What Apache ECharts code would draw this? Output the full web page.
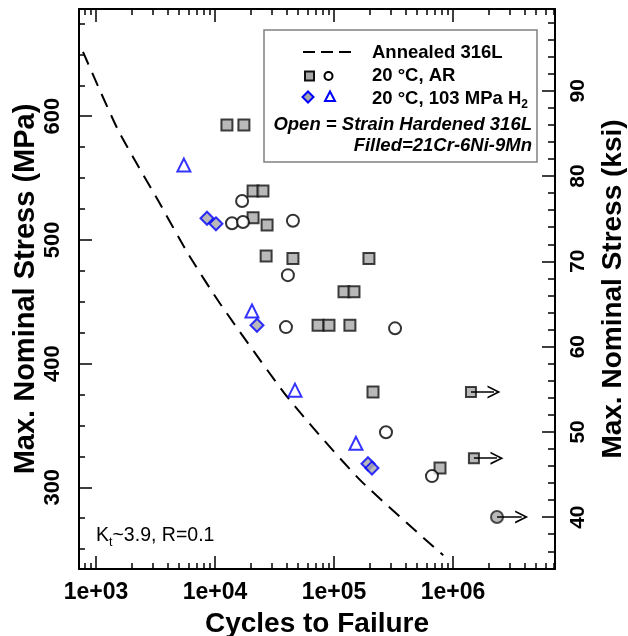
<!DOCTYPE html>
<html>
<head>
<meta charset="utf-8">
<script src="https://cdn.jsdelivr.net/npm/echarts@6/dist/echarts.min.js"></script>
<style>
html, body { margin: 0; padding: 0; background: #fff; }
#chart { width: 628px; height: 636px; }
</style>
</head>
<body>
<div id="chart"></div>
<script>
// values: cycles to failure, max nominal stress (MPa)
const annealedN = [778, 1530, 3320, 5930, 10940, 41300, 165200, 827900]
const annealedS = [652, 589, 532, 489, 449, 372, 306, 245]

// filled squares: 21Cr-6Ni-9Mn, 20 C, AR
const sqN = [12600, 17500, 20900, 25300, 20900, 27400, 26900, 45200, 196700, 121400, 147300, 73500, 90800, 136100, 212800, 778000]
const sqS = [593, 593, 539.5, 539.5, 518, 512, 487, 485, 485, 458, 458, 431, 431, 431, 377, 315.5]
// open circles: strain hardened 316L, 20 C, AR
const ciN = [16900, 13900, 17200, 45200, 41000, 39500, 326000, 273600, 666000]
const ciS = [531.5, 513.5, 514.5, 515.5, 471.5, 429.5, 428.5, 344.5, 309]
// filled diamonds: 21Cr-6Ni-9Mn, 103 MPa H2
const diN = [8570, 10190, 22540, 193000, 208600]
const diS = [517.5, 513, 431, 319, 315.5]
// open triangles: strain hardened 316L, 103 MPa H2
const trN = [5480, 20460, 47000, 153000]
const trS = [560.5, 442.5, 378.5, 335.5]

// run-outs (arrow to the right)
const runSqN = [1416000, 1500000]
const runSqS = [377, 323.5]
const runSqEnd = [2211000, 2343000]
const runCiN = [2344000]
const runCiS = [276]
const runCiEnd = [3778000]

// axes
const xMin = 720, xMax = 7200000
const yMin = 233.9, yMax = 686.7
const KSI = 6.895
const xMajor = [1e3, 1e4, 1e5, 1e6]
const mpaMajor = [300, 400, 500, 600]
const ksiMajor = [40, 50, 60, 70, 80, 90]

const xMinor = []
for (let p = 100; p <= 1e6; p *= 10) {
  for (let k = 2; k <= 9; k++) {
    const v = k * p
    if (v > xMin && v < xMax) xMinor.push(v)
  }
}
const mpaMinor = []
for (let v = 250; v < yMax; v += 25) if (v % 100) mpaMinor.push(v)
const ksiMinor = []
for (let v = 34; v < yMax / KSI; v += 2) if (v % 10) ksiMinor.push(v)

const FONT = 'Liberation Sans, Arial, Helvetica, sans-serif'
const GRAY = '#a8a8a8'
const BLUE = '#0000ff'

const pairs = (xs, ys) => xs.map((x, i) => [x, ys[i]])

const axisLine = { show: true, onZero: false, lineStyle: { color: '#000', width: 2 } }
const noLine = { show: false }

function xAxis(position, ticks, len, major) {
  return {
    type: 'log', logBase: 10, position, min: xMin, max: xMax,
    axisLine: major ? axisLine : noLine,
    axisTick: { inside: true, length: len, customValues: ticks, lineStyle: { color: '#000', width: 1.5 } },
    axisLabel: { show: false },
    splitLine: { show: false },
    minorTick: { show: false },
  }
}

function yAxis(position, lo, hi, ticks, len, major) {
  return {
    type: 'value', position, min: lo, max: hi,
    axisLine: major ? axisLine : noLine,
    axisTick: { inside: true, length: len, customValues: ticks, lineStyle: { color: '#000', width: 1.5 } },
    axisLabel: { show: false },
    splitLine: { show: false },
  }
}

const bottom = xAxis('bottom', xMajor, 13, true)
bottom.axisLabel = {
  show: true, customValues: xMajor, margin: 12,
  formatter: (v) => '1e+0' + Math.round(Math.log10(v)),
  color: '#000', fontFamily: FONT, fontWeight: 'bold', fontSize: 23,
}
bottom.name = 'Cycles to Failure'
bottom.nameLocation = 'middle'
bottom.nameGap = 41
bottom.nameMoveOverlap = false
bottom.nameTextStyle = { color: '#000', fontFamily: FONT, fontWeight: 'bold', fontSize: 28 }

const left = yAxis('left', yMin, yMax, mpaMajor, 13, true)
left.axisLabel = {
  show: true, customValues: mpaMajor, rotate: 90, margin: 15,
  color: '#000', fontFamily: FONT, fontWeight: 'bold', fontSize: 22,
}
left.name = 'Max. Nominal Stress (MPa)'
left.nameLocation = 'middle'
left.nameGap = 39
left.nameMoveOverlap = false
left.nameTextStyle = { color: '#000', fontFamily: FONT, fontWeight: 'bold', fontSize: 29 }

const right = yAxis('right', yMin / KSI, yMax / KSI, ksiMajor, 13, true)
right.axisLabel = {
  show: true, customValues: ksiMajor, rotate: 90, margin: 13,
  color: '#000', fontFamily: FONT, fontWeight: 'bold', fontSize: 21,
}
right.name = 'Max. Nominal Stress (ksi)'
right.nameLocation = 'middle'
right.nameGap = 44
right.nameMoveOverlap = false
right.nameTextStyle = { color: '#000', fontFamily: FONT, fontWeight: 'bold', fontSize: 28 }

const chevron = 'path://M0,10 L5,0 L10,10 L8.6,10 L5,2.8 L1.4,10 Z'

const chart = echarts.init(document.getElementById('chart'))
chart.setOption({
  animation: false,
  backgroundColor: '#fff',
  grid: { left: 79, top: 9, width: 476, height: 560, outerBoundsMode: 'none', containLabel: false },
  xAxis: [bottom, xAxis('bottom', xMinor, 6, false), xAxis('top', xMajor, 13, true), xAxis('top', xMinor, 6, false)],
  yAxis: [left, yAxis('left', yMin, yMax, mpaMinor, 6, false), right, yAxis('right', yMin / KSI, yMax / KSI, ksiMinor, 7, false)],
  series: [
    {
      name: 'Annealed 316L', type: 'line', data: pairs(annealedN, annealedS),
      symbol: 'none', smooth: 0.2, z: 1,
      lineStyle: { color: '#000', width: 2, type: [14, 9] },
    },
    {
      type: 'scatter', data: pairs(sqN, sqS), symbol: 'rect', symbolSize: 11, z: 3,
      itemStyle: { color: GRAY, borderColor: '#111', borderWidth: 2 },
    },
    {
      type: 'scatter', data: pairs(runSqN, runSqS), symbol: 'rect', symbolSize: 10, z: 3,
      itemStyle: { color: GRAY, borderColor: '#111', borderWidth: 2 },
    },
    {
      type: 'scatter', data: pairs(ciN, ciS), symbol: 'circle', symbolSize: 12, z: 3,
      itemStyle: { color: '#fff', borderColor: '#000', borderWidth: 2 },
    },
    {
      type: 'scatter', data: pairs(runCiN, runCiS), symbol: 'circle', symbolSize: 12, z: 3,
      itemStyle: { color: GRAY, borderColor: '#222', borderWidth: 2 },
    },
    {
      type: 'scatter', data: pairs(diN, diS), symbol: 'diamond', symbolSize: 13, z: 3,
      itemStyle: { color: GRAY, borderColor: BLUE, borderWidth: 2 },
    },
    {
      type: 'scatter', data: pairs(trN, trS), symbol: 'triangle', symbolSize: 13, z: 3,
      itemStyle: { color: '#fff', borderColor: BLUE, borderWidth: 2 },
    },
    {
      type: 'lines', coordinateSystem: 'cartesian2d', z: 4, silent: true,
      symbol: ['none', chevron], symbolSize: [14, 13],
      lineStyle: { color: '#000', width: 1.5, opacity: 1 },
      data: runSqN.map((n, i) => ({ coords: [[n, runSqS[i]], [runSqEnd[i], runSqS[i]]] }))
        .concat(runCiN.map((n, i) => ({ coords: [[n, runCiS[i]], [runCiEnd[i], runCiS[i]]] }))),
    },
  ],
  graphic: [
    { type: 'rect', z: 10, shape: { x: 264, y: 30, width: 273, height: 132 },
      style: { fill: '#fff', stroke: '#808080', lineWidth: 1.5 } },
    { type: 'line', z: 11, shape: { x1: 303, y1: 52, x2: 351, y2: 52 },
      style: { stroke: '#000', lineWidth: 2, lineDash: [12, 6] } },
    { type: 'rect', z: 11, shape: { x: 305, y: 71.5, width: 9, height: 9 },
      style: { fill: GRAY, stroke: '#111', lineWidth: 2 } },
    { type: 'circle', z: 11, shape: { cx: 328.5, cy: 76, r: 4 },
      style: { fill: '#fff', stroke: '#000', lineWidth: 2 } },
    { type: 'polygon', z: 11, shape: { points: [[308, 91.5], [313.5, 97], [308, 102.5], [302.5, 97]] },
      style: { fill: GRAY, stroke: BLUE, lineWidth: 2 } },
    { type: 'polygon', z: 11, shape: { points: [[330, 91.5], [335, 101], [325, 101]] },
      style: { fill: '#fff', stroke: BLUE, lineWidth: 2 } },
    { type: 'text', z: 11, x: 372, y: 53,
      style: { text: 'Annealed 316L', fill: '#000', fontFamily: FONT, fontWeight: 'bold', fontSize: 18.5, verticalAlign: 'middle' } },
    { type: 'text', z: 11, x: 372, y: 76,
      style: { text: '20 °C, AR', fill: '#000', fontFamily: FONT, fontWeight: 'bold', fontSize: 18.5, verticalAlign: 'middle' } },
    { type: 'text', z: 11, x: 372, y: 99,
      style: {
        text: '{a|20 °C, 103 MPa H}{s|2}', verticalAlign: 'middle',
        rich: {
          a: { fill: '#000', fontFamily: FONT, fontWeight: 'bold', fontSize: 18.5, lineHeight: 24 },
          s: { fill: '#000', fontFamily: FONT, fontWeight: 'bold', fontSize: 12, lineHeight: 10, verticalAlign: 'bottom' },
        },
      } },
    { type: 'text', z: 11, x: 532, y: 125,
      style: { text: 'Open = Strain Hardened 316L', fill: '#000', fontFamily: FONT, fontWeight: 'bold', fontStyle: 'italic', fontSize: 18.5, align: 'right', verticalAlign: 'middle' } },
    { type: 'text', z: 11, x: 532, y: 146,
      style: { text: 'Filled=21Cr-6Ni-9Mn', fill: '#000', fontFamily: FONT, fontWeight: 'bold', fontStyle: 'italic', fontSize: 18.5, align: 'right', verticalAlign: 'middle' } },
    { type: 'text', z: 11, x: 96, y: 536,
      style: {
        text: '{a|K}{s|t}{a|~3.9, R=0.1}', verticalAlign: 'middle',
        rich: {
          a: { fill: '#000', fontFamily: FONT, fontSize: 19.5, lineHeight: 26 },
          s: { fill: '#000', fontFamily: FONT, fontSize: 12.5, lineHeight: 10, verticalAlign: 'bottom' },
        },
      } },
  ],
})
</script>
</body>
</html>
